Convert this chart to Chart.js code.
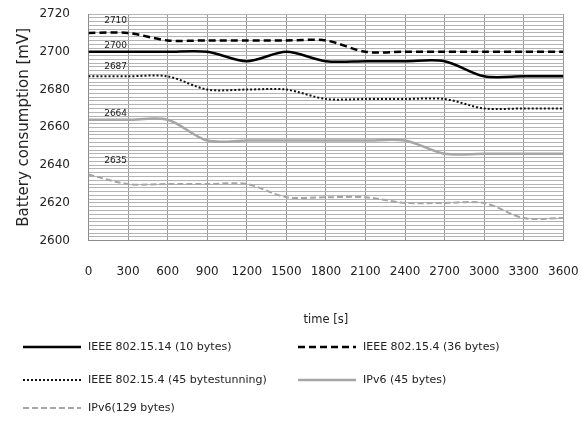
<!DOCTYPE html>
<html>
<head>
<meta charset="utf-8">
<script src="https://cdn.jsdelivr.net/npm/chart.js@4.4.1/dist/chart.umd.min.js"></script>
<style>
  html, body { margin: 0; padding: 0; background: #fff; }
  #wrap { width: 582px; height: 434px; position: relative; }
</style>
</head>
<body>
<div id="wrap"><canvas id="batteryChart" width="582" height="434"></canvas></div>
<script>
// time axis [s]
const times = [0, 300, 600, 900, 1200, 1500, 1800, 2100, 2400, 2700, 3000, 3300, 3600];

// battery readings [mV]
const ieee10 = [2700, 2700, 2700, 2700, 2695, 2700, 2695, 2695, 2695, 2695, 2687, 2687, 2687];
const ieee36 = [2710, 2710, 2706, 2706, 2706, 2706, 2706, 2700, 2700, 2700, 2700, 2700, 2700];
const ieee45 = [2687, 2687, 2687, 2680, 2680, 2680, 2675, 2675, 2675, 2675, 2670, 2670, 2670];
const ipv6_45 = [2664, 2664, 2664, 2653, 2653, 2653, 2653, 2653, 2653, 2646, 2646, 2646, 2646];
const ipv6_129 = [2635, 2630, 2630, 2630, 2630, 2623, 2623, 2623, 2620, 2620, 2620, 2612, 2612];

const seriesNames = [
    'IEEE 802.15.14 (10 bytes)',
    'IEEE 802.15.4 (36 bytes)',
    'IEEE 802.15.4 (45 bytestunning)',
    'IPv6 (45 bytes)',
    'IPv6(129 bytes)'
];

const yTicks = [2600, 2620, 2640, 2660, 2680, 2700, 2720];
const xTicks = times;

// offsets (px) of the little value labels above the first point
const startLabelLift = [6, 12, 10, 6, 14];

const FONT = 'DejaVu Sans';

function toPoints(values) {
    return times.map((t, i) => ({ x: t, y: values[i] }));
}

const datasets = [
    { label: seriesNames[0], data: toPoints(ieee10), borderColor: '#000', borderWidth: 2.5, borderDash: [] },
    { label: seriesNames[1], data: toPoints(ieee36), borderColor: '#000', borderWidth: 2.5, borderDash: [7, 4] },
    { label: seriesNames[2], data: toPoints(ieee45), borderColor: '#111', borderWidth: 2, borderDash: [2, 2] },
    { label: seriesNames[3], data: toPoints(ipv6_45), borderColor: '#a6a6a6', borderWidth: 2.5, borderDash: [] },
    { label: seriesNames[4], data: toPoints(ipv6_129), borderColor: '#a6a6a6', borderWidth: 2, borderDash: [6, 3] }
].map(d => Object.assign(d, { fill: false, pointRadius: 0, tension: 0.3 }));

// small value labels + legend laid out in two columns
const annotations = {
    id: 'annotations',
    afterDatasetsDraw(chart) {
        const { ctx, scales: { x, y } } = chart;
        ctx.save();
        ctx.font = '9px ' + FONT;
        ctx.fillStyle = '#222';
        ctx.textAlign = 'right';
        ctx.textBaseline = 'middle';
        chart.data.datasets.forEach((ds, i) => {
            const v = ds.data[0].y;
            ctx.fillText(String(v), x.getPixelForValue(300) - 1, y.getPixelForValue(v) - startLabelLift[i]);
        });
        ctx.restore();
    },
    afterDraw(chart) {
        const { ctx } = chart;
        const colX = [23, 298];
        const rowY = [347, 380, 408];
        ctx.save();
        ctx.font = '11px ' + FONT;
        ctx.textBaseline = 'middle';
        ctx.textAlign = 'left';
        chart.data.datasets.forEach((ds, i) => {
            const cx = colX[i % 2];
            const cy = rowY[Math.floor(i / 2)];
            ctx.strokeStyle = ds.borderColor;
            ctx.lineWidth = ds.borderWidth;
            ctx.setLineDash(ds.borderDash);
            ctx.beginPath();
            ctx.moveTo(cx, cy);
            ctx.lineTo(cx + 58, cy);
            ctx.stroke();
            ctx.setLineDash([]);
            ctx.fillStyle = '#222';
            ctx.fillText(ds.label, cx + 65, cy);
        });
        ctx.restore();
    }
};

const canvas = document.getElementById('batteryChart');
const batteryChart = new Chart(canvas.getContext('2d'), {
    type: 'line',
    data: { datasets },
    options: {
        responsive: false,
        animation: false,
        devicePixelRatio: 1,
        layout: { padding: { top: 14, right: 18.7, bottom: 104, left: 0 } },
        plugins: {
            legend: { display: false },
            tooltip: { enabled: false }
        },
        scales: {
            x: {
                type: 'linear',
                min: 0,
                max: 3600,
                afterFit: s => { s.height = 89.3; s.paddingLeft = 0; s.paddingRight = 0; },
                afterBuildTicks: s => { s.ticks = xTicks.map(v => ({ value: v })); },
                grid: { color: '#999', drawTicks: false },
                border: { color: '#8c8c8c' },
                ticks: {
                    padding: 24,
                    maxRotation: 0,
                    autoSkip: false,
                    color: '#222',
                    font: { family: FONT, size: 12 },
                    callback: v => String(v)
                },
                title: { display: true, text: 'time [s]', color: '#222', padding: { top: 0, bottom: 3 }, font: { family: FONT, size: 11.5 } }
            },
            y: {
                min: 2600,
                max: 2720,
                afterFit: s => { s.width = 88.5; s.paddingTop = 0; s.paddingBottom = 0; },
                ticks: {
                    stepSize: 2,
                    autoSkip: false,
                    padding: 18.5,
                    color: '#222',
                    font: { family: FONT, size: 12 },
                    callback: v => (yTicks.includes(v) ? String(v) : '')
                },
                grid: { color: '#b4b4b4', drawTicks: false },
                border: { color: '#8c8c8c' },
                title: { display: true, text: 'Battery consumption [mV]', color: '#222', padding: { top: 15, bottom: 0 }, font: { family: FONT, size: 15 } }
            }
        }
    },
    plugins: [annotations]
});
</script>
</body>
</html>
